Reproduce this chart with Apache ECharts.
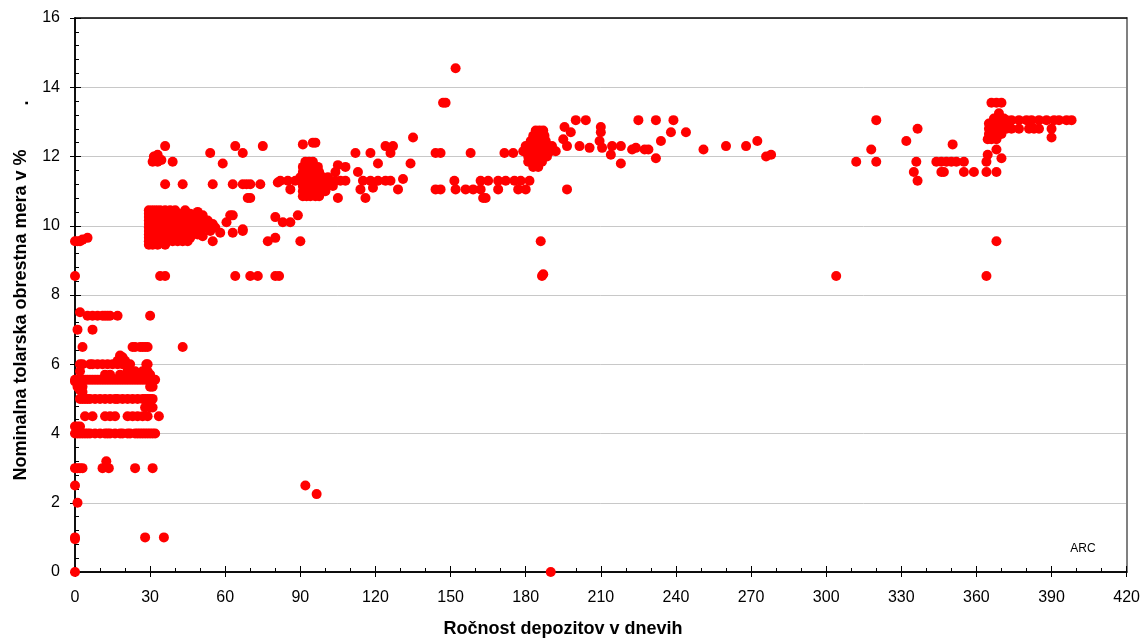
<!DOCTYPE html>
<html>
<head>
<meta charset="utf-8">
<script src="https://cdn.jsdelivr.net/npm/echarts@6/dist/echarts.min.js"></script>
<style>
html,body{margin:0;padding:0;background:#fff;}
#chart{width:1143px;height:639px;}
</style>
</head>
<body>
<div id="chart"></div>
<script>
// ---- Data: [days, rate %] ----
var xTicks = [0,30,60,90,120,150,180,210,240,270,300,330,360,390,420];
var yTicks = [0,2,4,6,8,10,12,14,16];

var shortTerm = [
  [0,0],[0,0.95],[0,1.0],[0,2.5],[0,3.0],[0,4.0],[0,4.2],[0,5.5],[0.5,5.55],[0,8.55],[0,9.55],
  [1,2.0],[1,3.0],[2,3.0],[3,3.0],[1,4.2],[2,4.2],[1.5,4.1],[1,7.0],[2,7.5],[3,6.5],[7,7.0],
  [5,7.4],[7,7.4],[9,7.4],[11,7.4],[12,7.4],[13,7.4],[14,7.4],[17,7.4],[30,7.4],
  [23,6.5],[24,6.5],[26,6.5],[27,6.5],[28,6.5],[29,6.5],[43,6.5],
  [18,6.25],[19,6.2],[17,6.1],[20,6.1],
  [2,6.0],[3,6.0],[6,6.0],[7,6.0],[9,6.0],[11,6.0],[13,6.0],[15,6.0],[17,6.0],[19,6.0],[21,6.0],[22,6.0],[28.5,6.0],[29,6.0],
  [2,5.8],[21,5.8],[24,5.8],[27,5.8],[29,5.8],
  [12,5.7],[14,5.7],[18,5.7],[23,5.7],[27,5.7],[30,5.7],
  [0,5.55],[1,5.55],[2,5.55],[3,5.55],[4,5.55],[5,5.55],[6,5.55],[7,5.55],[8,5.55],[9,5.55],[10,5.55],[11,5.55],
  [12,5.55],[13,5.55],[14,5.55],[15,5.55],[16,5.55],[17,5.55],[18,5.55],[19,5.55],[20,5.55],[21,5.55],[22,5.55],
  [23,5.55],[24,5.55],[25,5.55],[26,5.55],[27,5.55],[28,5.55],[29,5.55],[30,5.55],[31,5.55],[32,5.55],
  [1,5.35],[2,5.35],[3,5.35],[30,5.35],[31,5.35],[2,5.25],[3,5.2],
  [2,5.0],[3,5.0],[4,5.0],[5,5.0],[6,5.0],[8,5.0],[10,5.0],[12,5.0],[14,5.0],[16,5.0],[17,5.0],[19,5.0],
  [21,5.0],[23,5.0],[25,5.0],[27,5.0],[28,5.0],[29,5.0],[30,5.0],[31,5.0],
  [28,4.75],[29,4.85],[30,4.75],[31,4.75],
  [4,4.5],[7,4.5],[12,4.5],[14,4.5],[16,4.5],[21,4.5],[23,4.5],[25,4.5],[27,4.5],[29,4.5],[33.5,4.5],
  [1,4.0],[2,4.0],[3,4.0],[4,4.0],[5,4.0],[6,4.0],[8,4.0],[10,4.0],[12,4.0],[13,4.0],[14,4.0],[16,4.0],
  [18,4.0],[19,4.0],[21,4.0],[22,4.0],[24,4.0],[25,4.0],[26,4.0],[27,4.0],[28,4.0],[29,4.0],[30,4.0],[31,4.0],[32,4.0],
  [12.5,3.2],[11,3.0],[13.5,3.0],[24,3.0],[31,3.0],
  [28,1.0],[35.5,1.0],
  [1,9.55],[2,9.55],[3,9.6],[5,9.65]
];

var monthTerm = [
  [29.5,10.45],[31,10.45],[32.5,10.45],[34,10.45],[36,10.45],[38,10.45],[40,10.45],[44,10.45],
  [29.5,10.35],[31,10.35],[33,10.35],[35,10.35],[37,10.35],[39,10.35],[41,10.35],[43,10.35],[46,10.35],[49,10.4],
  [29.5,10.25],[31,10.25],[32,10.25],[34,10.25],[36,10.25],[38,10.25],[40,10.25],[42,10.25],[45,10.25],[48,10.25],[51,10.3],
  [29.5,10.15],[31,10.15],[33,10.15],[35,10.15],[37,10.15],[39,10.15],[41,10.15],[43,10.15],[45,10.15],[47,10.15],[50,10.15],[53,10.15],
  [29.5,10.05],[30.5,10.05],[32,10.05],[34,10.05],[36,10.05],[38,10.05],[40,10.05],[42,10.05],[44,10.05],[46,10.05],[48,10.05],[52,10.05],[55,10.05],
  [29.5,9.95],[31,9.95],[33,9.95],[35,9.95],[37,9.95],[39,9.95],[41,9.95],[43,9.95],[45,9.95],[47,9.95],[49,9.95],[52,9.95],[56,9.95],
  [29.5,9.85],[31,9.85],[32,9.85],[34,9.85],[36,9.85],[38,9.85],[40,9.85],[42,9.85],[44,9.85],[46,9.85],[48,9.85],[50,9.85],[54,9.85],
  [29.5,9.75],[31,9.75],[33,9.75],[35,9.75],[37,9.75],[39,9.75],[41,9.75],[43,9.75],[45,9.75],[47,9.75],[49,9.75],[58,9.8],
  [29.5,9.65],[30.5,9.65],[32,9.65],[34,9.65],[36,9.65],[38,9.65],[40,9.65],[42,9.65],[44,9.65],[46,9.65],[51,9.7],
  [29.5,9.55],[31,9.55],[33,9.55],[35,9.55],[37,9.55],[39,9.55],[41,9.55],[43,9.55],[45,9.55],[55,9.55],
  [29.5,9.45],[31,9.45],[33,9.45],[36,9.45],
  [33,12.05],[31,11.85],[33,11.85],[34.5,11.9],[39,11.85],[36,12.3],[31.5,12.0],
  [54,12.1],[59,11.8],[64,12.3],[67,12.1],[75,12.3],
  [36,11.2],[43,11.2],[55,11.2],[63,11.2],[67,11.2],[68.5,11.2],[70,11.2],[74,11.2],[81,11.25],
  [69,10.8],[70,10.8],[63,10.3],[60.5,10.1],[62,10.3],[67,9.9],[63,9.8],[67,9.85],
  [80,10.25],[83,10.1],[86,10.1],[89,10.3],[77,9.55],[80,9.65],[90,9.55],
  [34,8.55],[36,8.55],[64,8.55],[70,8.55],[73,8.55],[80,8.55],[81.5,8.55]
];

var quarterTerm = [
  [92,11.85],[93.5,11.85],[95,11.85],
  [91,11.7],[92.5,11.7],[94,11.7],[95.5,11.7],[97,11.7],[105,11.75],[108,11.7],
  [91,11.55],[92.5,11.55],[94,11.55],[96,11.55],[97.5,11.55],[104,11.55],
  [90,11.4],[91.5,11.4],[93,11.4],[94.5,11.4],[96,11.4],[97.5,11.4],[99,11.4],[101,11.4],
  [82,11.3],[85,11.3],[88,11.3],[90,11.3],[91,11.3],[92.5,11.3],[94,11.3],[95.5,11.3],[97,11.3],[98.5,11.3],
  [100,11.3],[102,11.3],[104,11.3],[106,11.3],[108,11.3],
  [91,11.15],[92.5,11.15],[94,11.15],[95.5,11.15],[97,11.15],[99,11.15],[101,11.15],[103,11.15],
  [86,11.05],[91,11.0],[92.5,11.0],[94,11.0],[95.5,11.0],[97,11.0],[98.5,11.0],[100,11.0],
  [91,10.85],[92.5,10.85],[94,10.85],[96,10.85],[97.5,10.85],[105,10.8],
  [91,12.35],[95,12.4],[96,12.4],
  [92,2.5],[96.5,2.25],
  [112,12.1],[118,12.1],[124,12.3],[127,12.3],[126,12.1],[135,12.55],[134,11.8],[121,11.8],[113,11.55],
  [115,11.3],[118,11.3],[121,11.3],[124,11.3],[126,11.3],[131,11.35],
  [114,11.05],[119,11.1],[129,11.05],[116,10.8],
  [144,12.1],[146,12.1],[147,13.55],[148,13.55],[144,11.05],[146,11.05]
];

var halfYear = [
  [152,14.55],
  [151.5,11.3],[162,11.3],[165,11.3],[169,11.3],[172,11.3],[175.5,11.3],[178,11.3],[181.5,11.3],
  [152,11.05],[156,11.05],[159,11.05],[162,11.05],[169,11.05],[177,11.05],[180,11.05],[196.5,11.05],
  [163,10.8],[164,10.8],
  [158,12.1],[171.5,12.1],[175,12.1],
  [184,12.75],[185.5,12.75],[187,12.75],
  [183,12.6],[184.5,12.6],[186,12.6],[187.5,12.6],
  [182,12.45],[183.5,12.45],[185,12.45],[186.5,12.45],[188,12.45],
  [180,12.3],[181.5,12.3],[183,12.3],[184.5,12.3],[186,12.3],[187.5,12.3],[189,12.3],[190.5,12.3],
  [179,12.15],[180.5,12.15],[182,12.15],[183.5,12.15],[185,12.15],[186.5,12.15],[188,12.15],[190,12.15],[192,12.15],
  [181,12.0],[182.5,12.0],[184,12.0],[185.5,12.0],[187,12.0],[188.5,12.0],
  [181,11.85],[183,11.85],[185,11.85],[186.5,11.85],[183,11.7],[185,11.7],
  [186,9.55],[186.5,8.55],[187,8.6],[190,0],
  [195.5,12.85],[200,13.05],[204,13.05],[198,12.7],[210,12.85],[210,12.7],[195,12.5],[196.5,12.3],
  [201.5,12.3],[205.5,12.25],[209.5,12.45],[210.5,12.25],[214.5,12.3],[218,12.3],[222.5,12.2],[224,12.25],
  [227.5,12.2],[229,12.2],[214,12.05],[218,11.8]
];

var yearTerm = [
  [225,13.05],[232,13.05],[239,13.05],[238,12.7],[244,12.7],[234,12.45],[232,11.95],
  [251,12.2],[260,12.3],[268,12.3],[272.5,12.45],[276,12.0],[278,12.05],
  [304,8.55],[312,11.85],[320,11.85],[318,12.2],[320,13.05],[332,12.45],[336.5,12.8],[336,11.85],[335,11.55],[336.5,11.3],
  [344,11.85],[346,11.85],[348,11.85],[350,11.85],[352,11.85],[355,11.85],[350.5,12.35],
  [346,11.55],[347,11.55],[355,11.55],[359,11.55],[364,11.55],[368,11.55],
  [364,11.85],[364.5,12.05],[368,12.2],[370,11.95],[368,9.55],[364,8.55],
  [366,13.55],[368,13.55],[370,13.55],[369,13.25],
  [367,13.1],[369,13.1],[371,13.1],
  [365,12.95],[367,12.95],[369,12.95],[371,12.95],[373,12.95],
  [365,12.8],[367,12.8],[369,12.8],[371,12.8],
  [365,12.65],[366.5,12.65],[368,12.65],[370,12.65],
  [364.5,12.5],[366,12.5],[368,12.5],
  [372,13.05],[374,13.05],[377,13.05],[380,13.05],[382,13.05],[385,13.05],[388,13.05],[391,13.05],[393,13.05],[396,13.05],[398,13.05],
  [372,12.8],[374,12.8],[377,12.8],[381,12.8],[383,12.8],[385,12.8],[390,12.8],[390,12.55]
];

var allPoints = [].concat(shortTerm, monthTerm, quarterTerm, halfYear, yearTerm);

var FONT = '"Liberation Sans", Arial, Helvetica, sans-serif';
var chart = echarts.init(document.getElementById('chart'), null, {renderer: 'canvas'});

function baseX(extra) {
  return Object.assign({
    type: 'value', min: 0, max: 420, interval: 30, gridIndex: 0,
    axisLine: {onZero: false, lineStyle: {color: '#000', width: 1.5}},
    splitLine: {show: false}
  }, extra);
}
function baseY(extra) {
  return Object.assign({
    type: 'value', min: 0, max: 16, interval: 2, gridIndex: 0,
    axisLine: {onZero: false, lineStyle: {color: '#000', width: 1.5}},
    splitLine: {show: false}
  }, extra);
}

var option = {
  backgroundColor: '#fff',
  animation: false,
  grid: {left: 75, right: 15, top: 18, bottom: 67, containLabel: false},
  xAxis: [
    baseX({position: 'bottom',
      axisTick: {show: true, inside: false, length: 5, lineStyle: {color: '#000'}},
      axisLabel: {show: true, color: '#000', fontSize: 16, fontFamily: FONT, margin: 18,
        formatter: function (v) { return xTicks.indexOf(v) >= 0 ? String(v) : ''; }}
    }),
    baseX({position: 'bottom',
      axisTick: {show: true, inside: true, length: 6, lineStyle: {color: '#000'}},
      minorTick: {show: true, splitNumber: 3, length: 4, lineStyle: {color: '#000'}},
      axisLabel: {show: false}
    }),
    baseX({position: 'top',
      axisTick: {show: false}, axisLabel: {show: false}
    })
  ],
  yAxis: [
    baseY({position: 'left',
      axisTick: {show: true, inside: false, length: 5, lineStyle: {color: '#000'}},
      axisLabel: {show: true, color: '#000', fontSize: 16, fontFamily: FONT, margin: 15,
        formatter: function (v) { return yTicks.indexOf(v) >= 0 ? String(v) : ''; }},
      splitLine: {show: true, lineStyle: {color: '#c8c8c8', width: 1}}
    }),
    baseY({position: 'left',
      axisTick: {show: true, inside: true, length: 6, lineStyle: {color: '#000'}},
      minorTick: {show: true, splitNumber: 5, length: 4, lineStyle: {color: '#000'}},
      axisLabel: {show: false}
    }),
    baseY({position: 'right',
      axisLine: {onZero: false, lineStyle: {color: '#808080', width: 2}},
      axisTick: {show: false}, axisLabel: {show: false}
    })
  ],
  series: [{
    type: 'scatter',
    xAxisIndex: 0, yAxisIndex: 0,
    symbol: 'circle',
    symbolSize: 10,
    itemStyle: {color: '#ff0000', opacity: 1},
    data: allPoints
  }],
  graphic: [
    {type: 'text', x: 563, y: 629,
      style: {text: 'Ročnost depozitov v dnevih', font: 'bold 18px ' + FONT, fill: '#000',
        textAlign: 'center', textVerticalAlign: 'middle'}},
    {type: 'text', x: 21, y: 315, rotation: Math.PI / 2,
      style: {text: 'Nominalna tolarska obrestna mera v %', font: 'bold 18px ' + FONT, fill: '#000',
        textAlign: 'center', textVerticalAlign: 'middle'}},
    {type: 'text', x: 23, y: 103, rotation: Math.PI / 2,
      style: {text: '.', font: 'bold 18px ' + FONT, fill: '#000',
        textAlign: 'center', textVerticalAlign: 'middle'}},
    {type: 'text', x: 1083, y: 549,
      style: {text: 'ARC', font: '12px ' + FONT, fill: '#000',
        textAlign: 'center', textVerticalAlign: 'middle'}}
  ]
};
chart.setOption(option);
</script>
</body>
</html>
